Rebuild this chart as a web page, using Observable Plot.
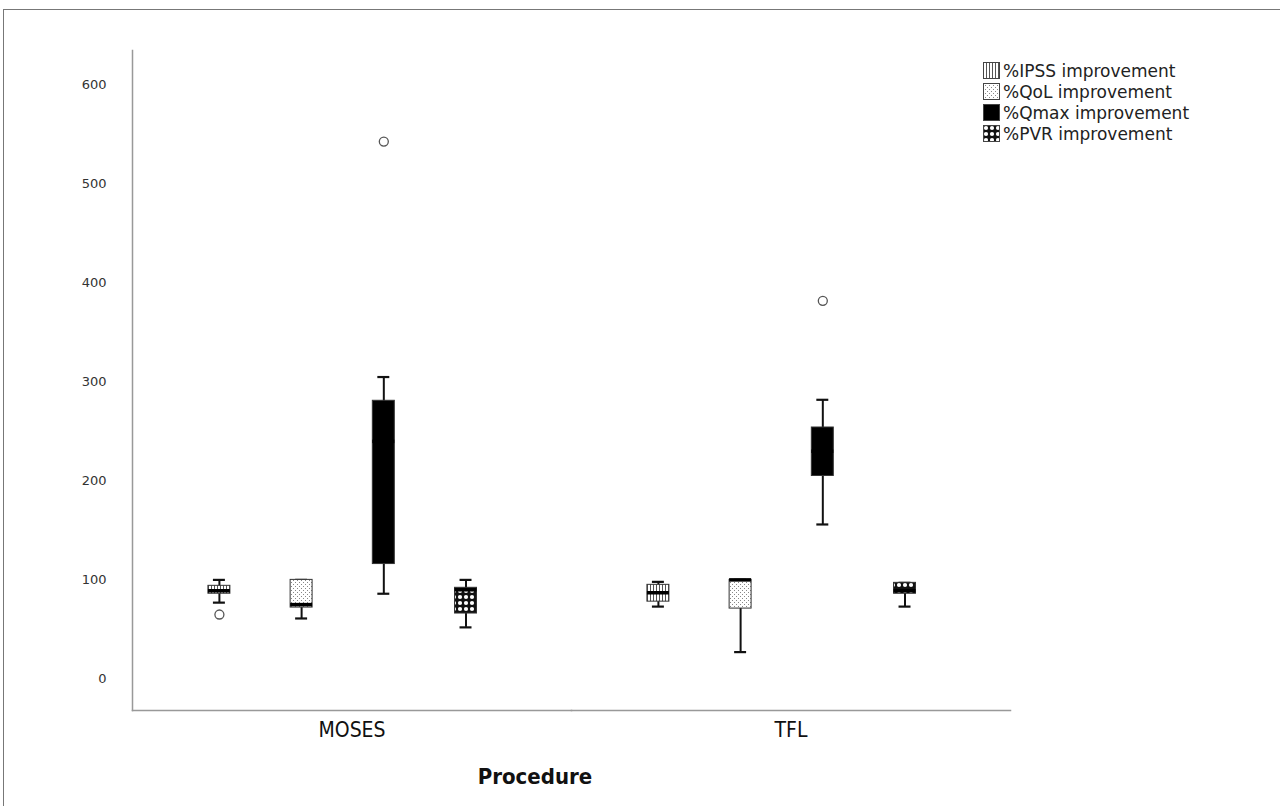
<!DOCTYPE html>
<html>
<head>
<meta charset="utf-8">
<script src="https://cdn.jsdelivr.net/npm/d3@7"></script>
<script src="https://cdn.jsdelivr.net/npm/@observablehq/plot@0.6"></script>
<style>
  html, body { margin: 0; padding: 0; background: #fff; }
  #page { position: relative; width: 1280px; height: 806px; overflow: hidden; }
  #border { position: absolute; left: 3px; top: 9px; right: 0; bottom: 0;
            border-top: 1.5px solid #777; border-left: 1.5px solid #777; }
  #chart { position: absolute; left: 0; top: 0; }
  #legend { position: absolute; left: 983px; top: 60px; font-family: "DejaVu Sans", sans-serif;
            font-size: 17px; color: #222; }
  #legend .row { display: flex; align-items: center; height: 21px; }
  #legend svg { margin-right: 3px; }
  #xtitle { position: absolute; left: 0; width: 1070px; top: 764px; text-align: center;
            font-family: "Liberation Sans Narrow", "DejaVu Sans Condensed", sans-serif;
            font-weight: bold; font-size: 22px; color: #111; }
</style>
</head>
<body>
<svg width="0" height="0" style="position:absolute">
  <defs>
    <pattern id="pIPSS" width="3" height="3" patternUnits="userSpaceOnUse">
      <rect width="3" height="3" fill="#fff"/>
      <rect x="0" y="0" width="1" height="3" fill="#555"/>
    </pattern>
    <pattern id="pQoL" width="4" height="4" patternUnits="userSpaceOnUse">
      <rect width="4" height="4" fill="#fff"/>
      <rect x="0" y="0" width="1" height="1" fill="#888"/>
      <rect x="2" y="2" width="1" height="1" fill="#888"/>
    </pattern>
    <pattern id="pPVR" width="6" height="6" patternUnits="userSpaceOnUse">
      <rect width="6" height="6" fill="#111"/>
      <circle cx="3" cy="3" r="2.1" fill="#fff"/>
    </pattern>
  </defs>
</svg>
<div id="page">
  <div id="border"></div>
  <div id="chart"></div>
  <div id="legend"></div>
  <div id="xtitle">Procedure</div>
</div>
<script>
// ---- data ----
const procedures = ["MOSES", "TFL"];
const series = ["%IPSS improvement", "%QoL improvement", "%Qmax improvement", "%PVR improvement"];
const seriesFill = ["url(#pIPSS)", "url(#pQoL)", "#000", "url(#pPVR)"];

const mosesLow    = [77, 61, 86, 52];
const mosesQ1     = [86, 72, 116, 66];
const mosesMedian = [89, 75, 240, 90];
const mosesQ3     = [94, 100, 281, 92];
const mosesHigh   = [100, 100, 305, 100];

const tflLow    = [73, 27, 156, 73];
const tflQ1     = [78, 71, 205, 86];
const tflMedian = [87, 100, 230, 89];
const tflQ3     = [95, 100, 254, 97];
const tflHigh   = [98, 100, 282, 97];

const outlierProcedure = ["MOSES", "MOSES", "TFL"];
const outlierSeries = ["%IPSS improvement", "%Qmax improvement", "%Qmax improvement"];
const outlierValue = [65, 543, 382];

const yTicks = [0, 100, 200, 300, 400, 500, 600];

// ---- tables ----
const stats = {
  MOSES: [mosesLow, mosesQ1, mosesMedian, mosesQ3, mosesHigh],
  TFL: [tflLow, tflQ1, tflMedian, tflQ3, tflHigh]
};
const rows = [];
for (const p of procedures) {
  const [lo, q1, md, q3, hi] = stats[p];
  series.forEach((s, i) => rows.push({
    procedure: p, series: s, fill: seriesFill[i],
    low: lo[i], q1: q1[i], median: md[i], q3: q3[i], high: hi[i]
  }));
}
const outliers = outlierValue.map((v, i) => ({procedure: outlierProcedure[i], series: outlierSeries[i], value: v}));

const plot = Plot.plot({
  width: 1280,
  height: 760,
  marginLeft: 131,
  marginRight: 270,
  marginTop: 50,
  marginBottom: 50,
  style: {background: "transparent", overflow: "visible"},
  fx: {domain: procedures, padding: 0, label: null, axis: null},
  x: {domain: series, axis: null, paddingInner: 0.7327, paddingOuter: 1.0365, align: 0.4455, round: false},
  y: {domain: [-32, 635], axis: null},
  color: {type: "identity"},
  marks: [
    Plot.frame({anchor: "bottom", stroke: "#999", strokeWidth: 1.5}),
    Plot.frame({anchor: "left", facetAnchor: "left", stroke: "#999", strokeWidth: 1.5}),
    Plot.axisY({ticks: yTicks, tickSize: 0, tickPadding: 26, label: null,
                fontSize: 13, fontFamily: "DejaVu Sans", fill: "#333"}),
    Plot.axisFx({anchor: "bottom", tickSize: 0, tickPadding: 12, label: null, fontSize: 21,
                 fontFamily: "Liberation Sans Narrow, DejaVu Sans Condensed, sans-serif", fill: "#111"}),
    Plot.ruleX(rows, {fx: "procedure", x: "series", y1: "low", y2: "high", stroke: "#111", strokeWidth: 2}),
    Plot.tickY(rows, {fx: "procedure", x: "series", y: "low", stroke: "#111", strokeWidth: 2.2, inset: 5}),
    Plot.tickY(rows, {fx: "procedure", x: "series", y: "high", stroke: "#111", strokeWidth: 2.2, inset: 5}),
    Plot.barY(rows, {fx: "procedure", x: "series", y1: "q1", y2: "q3", fill: "fill", stroke: "#333", strokeWidth: 1}),
    Plot.tickY(rows, {fx: "procedure", x: "series", y: "median", stroke: "#000", strokeWidth: 3.5}),
    Plot.dot(outliers, {fx: "procedure", x: "series", y: "value", r: 4.5, stroke: "#555", strokeWidth: 1.3, fill: "#fff"})
  ]
});
document.getElementById("chart").appendChild(plot);

// legend
const legend = d3.select("#legend");
series.forEach((s, i) => {
  const row = legend.append("div").attr("class", "row");
  const sw = row.append("svg").attr("width", 17).attr("height", 17);
  sw.append("rect").attr("x", 0.5).attr("y", 0.5).attr("width", 16).attr("height", 16)
    .attr("fill", seriesFill[i]).attr("stroke", "#444").attr("stroke-width", 1);
  row.append("span").text(s);
});
</script>
</body>
</html>
